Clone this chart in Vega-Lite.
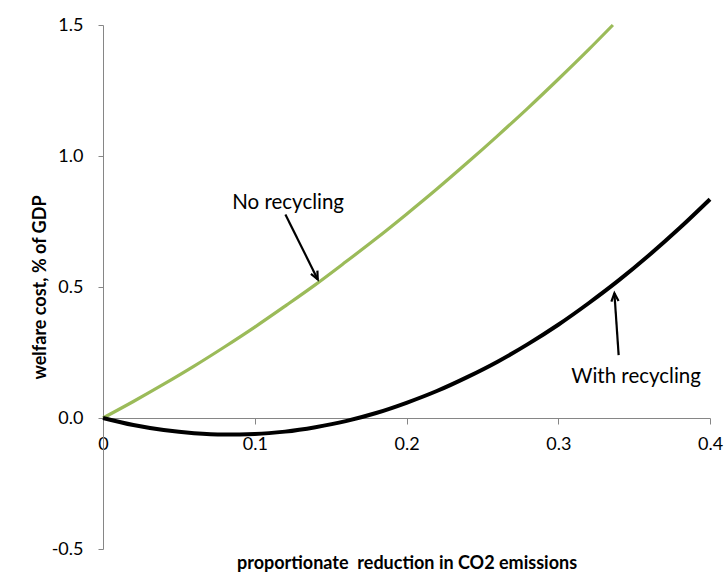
{
  "$schema": "https://vega.github.io/schema/vega-lite/v6.json",
  "width": 607,
  "height": 524,
  "autosize": {"type": "none"},
  "padding": {"left": 103, "top": 25, "right": 15, "bottom": 39},
  "background": "white",
  "config": {"font": "Lato", "view": {"stroke": null}, "axis": {"grid": false}},
  "datasets": {
    "curves": [
      {"x": 0, "cost": 0, "series": "No recycling"},
      {"x": 0.02, "cost": 0.063, "series": "No recycling"},
      {"x": 0.04, "cost": 0.129, "series": "No recycling"},
      {"x": 0.06, "cost": 0.198, "series": "No recycling"},
      {"x": 0.08, "cost": 0.271, "series": "No recycling"},
      {"x": 0.10, "cost": 0.347, "series": "No recycling"},
      {"x": 0.12, "cost": 0.427, "series": "No recycling"},
      {"x": 0.14, "cost": 0.509, "series": "No recycling"},
      {"x": 0.16, "cost": 0.596, "series": "No recycling"},
      {"x": 0.18, "cost": 0.685, "series": "No recycling"},
      {"x": 0.20, "cost": 0.778, "series": "No recycling"},
      {"x": 0.22, "cost": 0.874, "series": "No recycling"},
      {"x": 0.24, "cost": 0.974, "series": "No recycling"},
      {"x": 0.26, "cost": 1.077, "series": "No recycling"},
      {"x": 0.28, "cost": 1.183, "series": "No recycling"},
      {"x": 0.30, "cost": 1.293, "series": "No recycling"},
      {"x": 0.32, "cost": 1.406, "series": "No recycling"},
      {"x": 0.336, "cost": 1.5, "series": "No recycling"},
      {"x": 0, "cost": 0, "series": "With recycling"},
      {"x": 0.02, "cost": -0.027, "series": "With recycling"},
      {"x": 0.04, "cost": -0.046, "series": "With recycling"},
      {"x": 0.06, "cost": -0.058, "series": "With recycling"},
      {"x": 0.08, "cost": -0.063, "series": "With recycling"},
      {"x": 0.10, "cost": -0.061, "series": "With recycling"},
      {"x": 0.12, "cost": -0.052, "series": "With recycling"},
      {"x": 0.14, "cost": -0.035, "series": "With recycling"},
      {"x": 0.16, "cost": -0.012, "series": "With recycling"},
      {"x": 0.18, "cost": 0.019, "series": "With recycling"},
      {"x": 0.20, "cost": 0.058, "series": "With recycling"},
      {"x": 0.22, "cost": 0.103, "series": "With recycling"},
      {"x": 0.24, "cost": 0.156, "series": "With recycling"},
      {"x": 0.26, "cost": 0.215, "series": "With recycling"},
      {"x": 0.28, "cost": 0.282, "series": "With recycling"},
      {"x": 0.30, "cost": 0.356, "series": "With recycling"},
      {"x": 0.32, "cost": 0.438, "series": "With recycling"},
      {"x": 0.34, "cost": 0.526, "series": "With recycling"},
      {"x": 0.36, "cost": 0.622, "series": "With recycling"},
      {"x": 0.38, "cost": 0.725, "series": "With recycling"},
      {"x": 0.40, "cost": 0.835, "series": "With recycling"}
    ],
    "notes": [
      {"label": "No recycling", "tx": 0.122, "ty": 0.819, "x0": 0.1202, "y0": 0.777, "x1": 0.1415, "y1": 0.529},
      {"label": "With recycling", "tx": 0.3513, "ty": 0.158, "x0": 0.3398, "y0": 0.240, "x1": 0.337, "y1": 0.476}
    ]
  },
  "layer": [
    {
      "data": {"name": "curves"},
      "mark": {"type": "line", "interpolate": "monotone"},
      "encoding": {
        "x": {
          "field": "x", "type": "quantitative",
          "scale": {"domain": [0, 0.4], "nice": false, "zero": false},
          "axis": {
            "title": "proportionate\u00a0 reduction in CO2 emissions",
            "values": [0, 0.1, 0.2, 0.3, 0.4],
            "labelExpr": "datum.value == 0 ? '0' : format(datum.value, '.1f')",
            "offset": -131,
            "domainColor": "#868686",
            "tickColor": "#868686",
            "tickSize": 6,
            "labelPadding": 11,
            "labelFontSize": 18,
            "labelColor": "#000000",
            "labelFlush": false,
            "labelOverlap": false,
            "titleFontSize": 18,
            "titleFontWeight": "bold",
            "titleColor": "#000000",
            "titlePadding": 101
          }
        },
        "y": {
          "field": "cost", "type": "quantitative",
          "scale": {"domain": [-0.5, 1.5], "nice": false, "zero": false},
          "axis": {
            "title": "welfare cost, % of GDP",
            "values": [-0.5, 0, 0.5, 1, 1.5],
            "labelExpr": "replace(format(datum.value, '.1f'), '\u2212', '-')",
            "domainColor": "#868686",
            "tickColor": "#868686",
            "tickSize": 5,
            "labelPadding": 15,
            "labelFontSize": 18,
            "labelColor": "#000000",
            "labelFlush": false,
            "labelOverlap": false,
            "titleFontSize": 18,
            "titleFontWeight": "bold",
            "titleColor": "#000000",
            "titlePadding": 2
          }
        },
        "color": {"field": "series", "type": "nominal", "scale": {"domain": ["No recycling", "With recycling"], "range": ["#9BBB59", "#000000"]}, "legend": null},
        "strokeWidth": {"field": "series", "type": "nominal", "scale": {"domain": ["No recycling", "With recycling"], "range": [3.2, 4]}, "legend": null}
      }
    },
    {
      "data": {"name": "notes"},
      "mark": {"type": "rule", "color": "#000000", "strokeWidth": 2.2},
      "encoding": {
        "x": {"field": "x0", "type": "quantitative"},
        "y": {"field": "y0", "type": "quantitative"},
        "x2": {"field": "x1"},
        "y2": {"field": "y1"}
      }
    },
    {
      "data": {"name": "notes"},
      "transform": [{"filter": "datum.label == 'No recycling'"}],
      "mark": {"type": "point", "shape": "M-0.9,2 L0,0 L0.9,2", "filled": false, "stroke": "#000000", "strokeWidth": 2.2, "opacity": 1, "size": 64, "angle": 153.6},
      "encoding": {
        "x": {"field": "x1", "type": "quantitative"},
        "y": {"field": "y1", "type": "quantitative"}
      }
    },
    {
      "data": {"name": "notes"},
      "transform": [{"filter": "datum.label == 'With recycling'"}],
      "mark": {"type": "point", "shape": "M-0.9,2 L0,0 L0.9,2", "filled": false, "stroke": "#000000", "strokeWidth": 2.2, "opacity": 1, "size": 64, "angle": 356},
      "encoding": {
        "x": {"field": "x1", "type": "quantitative"},
        "y": {"field": "y1", "type": "quantitative"}
      }
    },
    {
      "data": {"name": "notes"},
      "mark": {"type": "text", "fontSize": 20.5, "color": "#000000", "align": "center", "baseline": "middle"},
      "encoding": {
        "x": {"field": "tx", "type": "quantitative"},
        "y": {"field": "ty", "type": "quantitative"},
        "text": {"field": "label"}
      }
    }
  ]
}
